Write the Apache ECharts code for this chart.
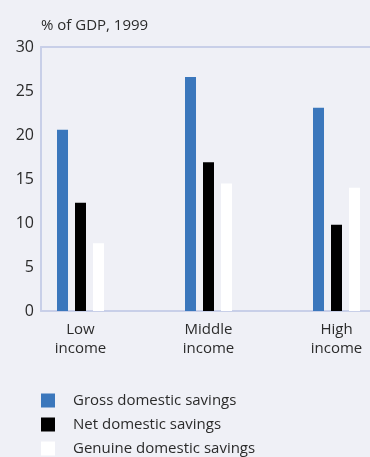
<!DOCTYPE html>
<html>
<head>
<meta charset="utf-8">
<script src="https://cdn.jsdelivr.net/npm/echarts@6/dist/echarts.min.js"></script>
<style>
  html, body { margin: 0; padding: 0; background: #eff0f6; }
  #chart { width: 370px; height: 457px; }
</style>
</head>
<body>
<div id="chart"></div>
<script>
const categories = ["Low\nincome", "Middle\nincome", "High\nincome"];
const grossSavings = [20.6, 26.6, 23.1];
const netSavings = [12.3, 16.9, 9.8];
const genuineSavings = [7.7, 14.5, 14.0];
const yTicks = [0, 5, 10, 15, 20, 25, 30];

(function () {
  const chart = echarts.init(document.getElementById("chart"));
  const font = "Open Sans";
  const lineColor = "#c8cfe8";

  // groups sit on a value axis so the first group can be offset from the y axis
  function points(values) {
    return values.map(function (v, i) {
      return [i, v];
    });
  }

  const xMin = -0.3086;
  const xMax = 2.2617;

  const barSeries = function (name, values, color) {
    return {
      name: name,
      type: "bar",
      data: points(values),
      barWidth: 11,
      barGap: "63.6%",
      itemStyle: { color: color },
      emphasis: { disabled: true },
    };
  };

  const option = {
    backgroundColor: "#eff0f6",
    animation: false,
    title: {
      text: "% of GDP, 1999",
      left: 36,
      top: 13,
      textStyle: { fontFamily: font, fontSize: 15, fontWeight: "normal", color: "#2b2b2b" },
    },
    grid: { left: 41, right: 0, top: 47, bottom: 146 },
    xAxis: [
      {
        type: "value",
        min: xMin,
        max: xMax,
        position: "bottom",
        splitLine: { show: false },
        axisTick: { show: false },
        axisLine: { show: true, onZero: false, lineStyle: { color: lineColor, width: 2 } },
        axisLabel: {
          customValues: [0, 1, 2],
          formatter: function (v) {
            return categories[Math.round(v)];
          },
          margin: 9,
          fontFamily: font,
          fontSize: 15,
          lineHeight: 19,
          color: "#2b2b2b",
        },
      },
      {
        type: "value",
        min: xMin,
        max: xMax,
        position: "top",
        splitLine: { show: false },
        axisTick: { show: false },
        axisLabel: { show: false },
        axisLine: { show: true, onZero: false, lineStyle: { color: lineColor, width: 2 } },
      },
    ],
    yAxis: {
      type: "value",
      min: yTicks[0],
      max: yTicks[yTicks.length - 1],
      interval: 5,
      splitLine: { show: false },
      axisTick: { show: false },
      axisLine: { show: true, onZero: false, lineStyle: { color: lineColor, width: 2 } },
      axisLabel: { margin: 7, fontFamily: font, fontSize: 16, color: "#2b2b2b" },
    },
    legend: {
      orient: "vertical",
      left: 41,
      top: 393,
      padding: 0,
      icon: "rect",
      itemWidth: 14,
      itemHeight: 14,
      itemGap: 9,
      selectedMode: false,
      textStyle: { fontFamily: font, fontSize: 15, color: "#2b2b2b", padding: [0, 0, 0, 13] },
      data: ["Gross domestic savings", "Net domestic savings", "Genuine domestic savings"],
    },
    series: [
      barSeries("Gross domestic savings", grossSavings, "#3b77bc"),
      barSeries("Net domestic savings", netSavings, "#000000"),
      barSeries("Genuine domestic savings", genuineSavings, "#ffffff"),
    ],
  };

  chart.setOption(option);

  window.addEventListener("resize", function () {
    chart.resize();
  });
})();
</script>
</body>
</html>
